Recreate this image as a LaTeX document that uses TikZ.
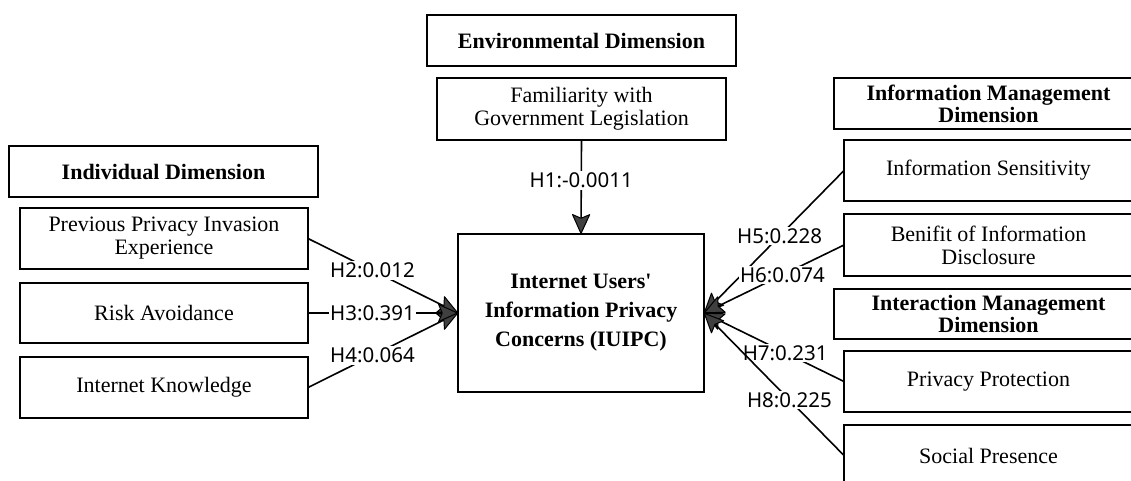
\documentclass[tikz,border=0pt]{standalone}
\usepackage{fontspec}
\setmainfont{Liberation Serif}
\newfontfamily\labfont{Noto Sans}
\usetikzlibrary{arrows.meta}
\definecolor{headgray}{HTML}{404040}
\tikzset{
  box/.style={draw=black, line width=1.8pt, rectangle, inner sep=0pt, outer sep=0pt,
    align=center, font=\fontsize{22}{23}\selectfont},
  headbox/.style={box, font=\fontsize{22}{22}\selectfont\bfseries},
  conn/.style={line width=1.6pt, -{Stealth[length=21pt,width=19pt,inset=4pt,fill=headgray,line width=1pt,round]}},
  lab/.style={fill=white, inner sep=1.5pt, font=\labfont\fontsize{20.5}{22}\selectfont}
}
\begin{document}
\begin{tikzpicture}[x=1pt,y=-1pt]
\useasboundingbox (0,0) rectangle (1131,480);
\clip (0,0) rectangle (1131,480);
% left
\node[headbox, minimum width=309pt, minimum height=51pt] (ind) at (163.5,171.5) {Individual Dimension};
\node[box, minimum width=288pt, minimum height=61pt] (ppie) at (164,238.5) {Previous Privacy Invasion\\Experience};
\node[box, minimum width=288pt, minimum height=60pt] (risk) at (164,313) {Risk Avoidance};
\node[box, minimum width=288pt, minimum height=61pt] (know) at (164,387.5) {Internet Knowledge};
% top
\node[headbox, minimum width=309pt, minimum height=51pt] (env) at (581.5,40.5) {Environmental Dimension};
\node[box, minimum width=289pt, minimum height=62pt] (fam) at (581.5,109) {Familiarity with\\Government Legislation};
% centre
\node[box, minimum width=246pt, minimum height=158pt, font=\fontsize{22}{29}\selectfont\bfseries] (iuipc) at (581,313) {Internet Users\textquotesingle\\Information Privacy\\Concerns (IUIPC)};
% right
\node[headbox, minimum width=309pt, minimum height=51pt] (imd) at (988.5,103.5) {Information Management\\Dimension};
\node[box, minimum width=289pt, minimum height=61pt] (sens) at (988.5,170.5) {Information Sensitivity};
\node[box, minimum width=289pt, minimum height=62pt] (ben) at (988.5,245) {Benifit of Information\\Disclosure};
\node[headbox, minimum width=309pt, minimum height=50pt] (inter) at (988.5,314) {Interaction Management\\Dimension};
\node[box, minimum width=289pt, minimum height=61pt] (prot) at (988.5,381.5) {Privacy Protection};
\node[box, minimum width=289pt, minimum height=61pt, text depth=0pt] (soc) at (988.5,455.5) {Social Presence};
% connectors
\draw[conn] (fam.south) -- node[lab, pos=0.43] (h1) {H1:-0.0011} (iuipc.north);
\draw[conn] (ppie.east) -- node[lab, pos=0.43] (h2) {H2:0.012} (iuipc.west);
\draw[conn] (know.east) -- node[lab, pos=0.43] (h4) {H4:0.064} (iuipc.west);
\draw[conn] (risk.east) -- node[lab, pos=0.43] (h3) {H3:0.391} (iuipc.west);
\draw[conn] (sens.west) -- node[lab, pos=0.46] (h5) {H5:0.228} (iuipc.east);
\draw[conn] (ben.west) -- node[lab, pos=0.44] (h6) {H6:0.074} (iuipc.east);
\draw[conn] (prot.west) -- node[lab, pos=0.42] (h7) {H7:0.231} (iuipc.east);
\draw[conn] (soc.west) -- node[lab, pos=0.39] (h8) {H8:0.225} (iuipc.east);
\end{tikzpicture}
\end{document}
